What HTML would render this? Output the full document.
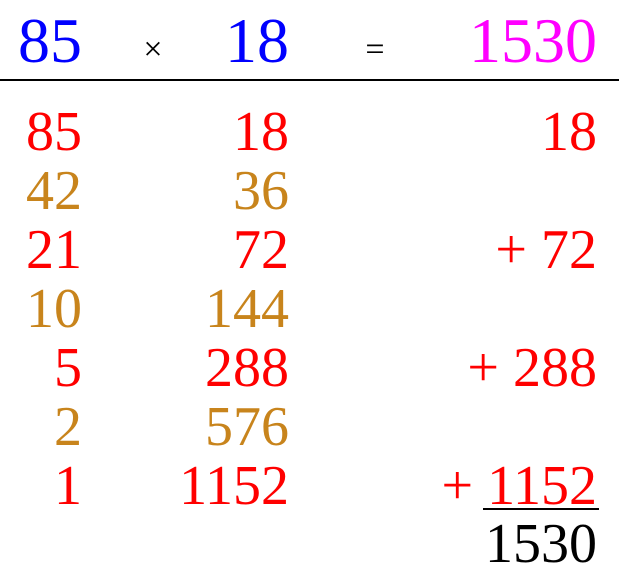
<!DOCTYPE html>
<html><head><meta charset="utf-8"><style>
html,body{margin:0;padding:0;background:#fff;width:619px;height:577px;overflow:hidden}
svg{display:block}
text{font-family:"Liberation Serif",serif}
</style></head><body>
<svg width="619" height="577" viewBox="0 0 619 577">
<g font-size="64" font-family="Liberation Serif, serif">
<text x="82" y="62" text-anchor="end" fill="#0000ff">85</text>
<text x="153" y="60" text-anchor="middle" font-size="34" fill="#000">×</text>
<text x="289" y="62" text-anchor="end" fill="#0000ff">18</text>
<text x="375" y="60" text-anchor="middle" font-size="34" fill="#000">=</text>
<text x="597" y="62" text-anchor="end" fill="#ff00ff">1530</text>
</g>
<rect x="0" y="79" width="619" height="2" fill="#000"/>
<g font-size="56" font-family="Liberation Serif, serif" text-anchor="end">
<text x="82" y="150" fill="#ff0000">85</text>
<text x="82" y="209" fill="#c8841c">42</text>
<text x="82" y="268" fill="#ff0000">21</text>
<text x="82" y="327" fill="#c8841c">10</text>
<text x="82" y="386" fill="#ff0000">5</text>
<text x="82" y="445" fill="#c8841c">2</text>
<text x="82" y="504" fill="#ff0000">1</text>
</g>
<g font-size="56" font-family="Liberation Serif, serif" text-anchor="end">
<text x="289" y="150" fill="#ff0000">18</text>
<text x="289" y="209" fill="#c8841c">36</text>
<text x="289" y="268" fill="#ff0000">72</text>
<text x="289" y="327" fill="#c8841c">144</text>
<text x="289" y="386" fill="#ff0000">288</text>
<text x="289" y="445" fill="#c8841c">576</text>
<text x="289" y="504" fill="#ff0000">1152</text>
</g>
<g font-size="56" font-family="Liberation Serif, serif" text-anchor="end" fill="#ff0000">
<text x="597" y="150">18</text>
<text x="597" y="268">+ 72</text>
<text x="597" y="386">+ 288</text>
<text x="597" y="504">+ 1152</text>
</g>
<rect x="483" y="508" width="116" height="2" fill="#000"/>
<text x="597" y="562" text-anchor="end" font-size="56" font-family="Liberation Serif, serif" fill="#000">1530</text>
</svg>
</body></html>
